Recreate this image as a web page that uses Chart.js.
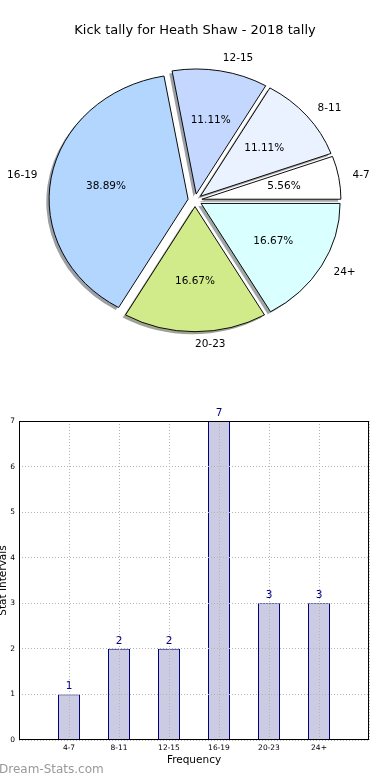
<!DOCTYPE html>
<html>
<head>
<meta charset="utf-8">
<script src="https://cdn.jsdelivr.net/npm/chart.js@4.4.0/dist/chart.umd.min.js"></script>
<style>
  html, body { margin: 0; padding: 0; background: #fff; }
  #wrap { position: relative; width: 390px; height: 780px; overflow: hidden; }
  canvas { position: absolute; left: 0; }
  #pieChart { top: 0; }
  #barChart { top: 380px; }
</style>
</head>
<body>
<div id="wrap">
  <canvas id="pieChart" width="390" height="380"></canvas>
  <canvas id="barChart" width="390" height="400"></canvas>
</div>
<script>
// data
const categories = ["4-7", "8-11", "12-15", "16-19", "20-23", "24+"];
const counts = [1, 2, 2, 7, 3, 3];
const sliceColors = ["#ffffff", "#eaf2ff", "#c4d8ff", "#b3d6ff", "#d1eb8b", "#d9ffff"];
const yTicks = [0, 1, 2, 3, 4, 5, 6, 7];

const chartTitle = "Kick tally for Heath Shaw - 2018 tally";
const fontFamily = "'DejaVu Sans', sans-serif";
Chart.defaults.font.family = fontFamily;
Chart.defaults.color = "#000";

// pie look (matplotlib style: exploded, squashed, with shadow)
const explode = 7;
const squash = 0.9;
const shadowShift = [-2.8, 2.5];
const total = counts.reduce((a, b) => a + b, 0);

function shadowOf(hex) {
  const n = parseInt(hex.slice(1), 16);
  const ch = [(n >> 16) & 255, (n >> 8) & 255, n & 255].map((v) => Math.round(255 * 0.5 + 0.15 * v));
  return "rgb(" + ch.join(",") + ")";
}

// move ctx so a wedge is drawn squashed and pushed out from the centre
function placeWedge(ctx, arc) {
  const mid = (arc.startAngle + arc.endAngle) / 2;
  ctx.translate(arc.x, arc.y);
  ctx.scale(1, squash);
  ctx.translate(Math.cos(mid) * explode, Math.sin(mid) * explode);
  ctx.translate(-arc.x, -arc.y);
}

const pieShape = {
  id: "pieShape",
  beforeDatasetsDraw(chart) {
    const ctx = chart.ctx;
    const arcs = chart.getDatasetMeta(0).data;
    // shadows go under every wedge
    arcs.forEach((arc) => {
      ctx.save();
      ctx.translate(shadowShift[0], shadowShift[1]);
      placeWedge(ctx, arc);
      ctx.beginPath();
      ctx.moveTo(arc.x, arc.y);
      ctx.arc(arc.x, arc.y, arc.outerRadius, arc.startAngle, arc.endAngle);
      ctx.closePath();
      ctx.fillStyle = shadowOf(arc.options.backgroundColor);
      ctx.fill();
      ctx.restore();
    });
    // wrap library draw of each wedge
    arcs.forEach((arc) => {
      if (arc.wrapped) return;
      const draw = arc.draw;
      arc.draw = function (c) {
        c.save();
        placeWedge(c, this);
        draw.call(this, c);
        c.restore();
      };
      arc.wrapped = true;
    });
  },
  afterDatasetsDraw(chart) {
    const ctx = chart.ctx;
    const meta = chart.getDatasetMeta(0);
    const labels = chart.data.labels;
    const values = chart.data.datasets[0].data;
    ctx.save();
    ctx.fillStyle = "#000";
    ctx.font = "10.5px " + fontFamily;
    ctx.textBaseline = "middle";
    meta.data.forEach((arc, i) => {
      const mid = (arc.startAngle + arc.endAngle) / 2;
      const cos = Math.cos(mid);
      const sin = Math.sin(mid);
      const r = arc.outerRadius;
      // category label
      const d1 = explode + 1.1 * r;
      ctx.textAlign = cos >= -1e-9 ? "left" : "right";
      ctx.fillText(labels[i], arc.x + cos * d1, arc.y + sin * d1 * squash);
      // percentage
      const d2 = explode + 0.6 * r;
      ctx.textAlign = "center";
      const pct = ((values[i] / total) * 100).toFixed(2) + "%";
      ctx.fillText(pct, arc.x + cos * d2, arc.y + sin * d2 * squash);
    });
    ctx.restore();
  },
};

// matplotlib draws counter-clockwise from east, so reverse for Chart.js
const pieLabels = categories.slice().reverse();
const pieValues = counts.slice().reverse();
const pieColors = sliceColors.slice().reverse();

new Chart(document.getElementById("pieChart"), {
  type: "pie",
  data: {
    labels: pieLabels,
    datasets: [
      {
        data: pieValues,
        backgroundColor: pieColors,
        borderColor: "#000",
        borderWidth: 1,
      },
    ],
  },
  options: {
    responsive: false,
    animation: false,
    rotation: 90,
    radius: 139,
    layout: { padding: { top: 0, bottom: 18, left: 0, right: 0 } },
    plugins: {
      legend: { display: false },
      tooltip: { enabled: false },
      title: {
        display: true,
        text: chartTitle,
        color: "#000",
        font: { size: 13, weight: "normal", family: fontFamily },
        padding: { top: 23, bottom: 0 },
      },
    },
  },
  plugins: [pieShape],
});

// bar chart extras: value labels, frame, watermark
const barExtras = {
  id: "barExtras",
  afterDraw(chart) {
    const ctx = chart.ctx;
    const area = chart.chartArea;
    ctx.save();
    // frame
    ctx.strokeStyle = "#000";
    ctx.lineWidth = 1;
    const l = Math.round(area.left) + 0.5;
    const t = Math.round(area.top) + 0.5;
    const r = Math.round(area.right) - 0.5;
    const b = Math.round(area.bottom) - 0.5;
    ctx.strokeRect(l, t, r - l, b - t);
    // values above the bars
    ctx.fillStyle = "#000080";
    ctx.font = "10.5px " + fontFamily;
    ctx.textAlign = "center";
    ctx.textBaseline = "bottom";
    chart.getDatasetMeta(0).data.forEach((bar, i) => {
      ctx.fillText(String(counts[i]), bar.x, bar.y - 2.5);
    });
    // watermark
    ctx.fillStyle = "#999";
    ctx.font = "12px " + fontFamily;
    ctx.textAlign = "left";
    ctx.textBaseline = "middle";
    ctx.fillText("Dream-Stats.com", -1, 390);
    ctx.restore();
  },
};

const gridColor = "#b4b4b4";

new Chart(document.getElementById("barChart"), {
  type: "bar",
  data: {
    datasets: [
      {
        data: categories.map((c, i) => ({ x: i, y: counts[i] })),
        backgroundColor: "#cbcbe3",
        borderColor: "#000080",
        borderWidth: 1,
        barPercentage: 0.44,
        categoryPercentage: 1,
      },
    ],
  },
  options: {
    responsive: false,
    animation: false,
    layout: { padding: { top: 41, right: 21, bottom: 13.7, left: 0 } },
    plugins: {
      legend: { display: false },
      tooltip: { enabled: false },
    },
    scales: {
      x: {
        type: "linear",
        min: -1,
        max: categories.length,
        offset: false,
        afterFit: (scale) => {
          scale.height = 26.3;
        },
        ticks: {
          stepSize: 1,
          autoSkip: false,
          padding: 4,
          font: { size: 7.5 },
          color: "#000",
          callback: (v) => (categories[v] !== undefined ? categories[v] : ""),
        },
        grid: { color: gridColor, drawTicks: false, offset: false, z: 1 },
        border: { display: false, dash: [1, 2] },
        title: {
          display: true,
          text: "Frequency",
          color: "#000",
          font: { size: 10.5 },
          padding: { top: 0, bottom: 0 },
        },
      },
      y: {
        min: yTicks[0],
        max: yTicks[yTicks.length - 1],
        afterFit: (scale) => {
          scale.width = 19;
        },
        ticks: {
          stepSize: 1,
          padding: 4,
          font: { size: 7.5 },
          color: "#000",
        },
        grid: { color: gridColor, drawTicks: false, z: 1 },
        border: { display: false, dash: [1, 2] },
        title: {
          display: true,
          text: "Stat Intervals",
          color: "#000",
          font: { size: 10.5 },
          padding: { top: -3, bottom: 0 },
        },
      },
    },
  },
  plugins: [barExtras],
});
</script>
</body>
</html>
